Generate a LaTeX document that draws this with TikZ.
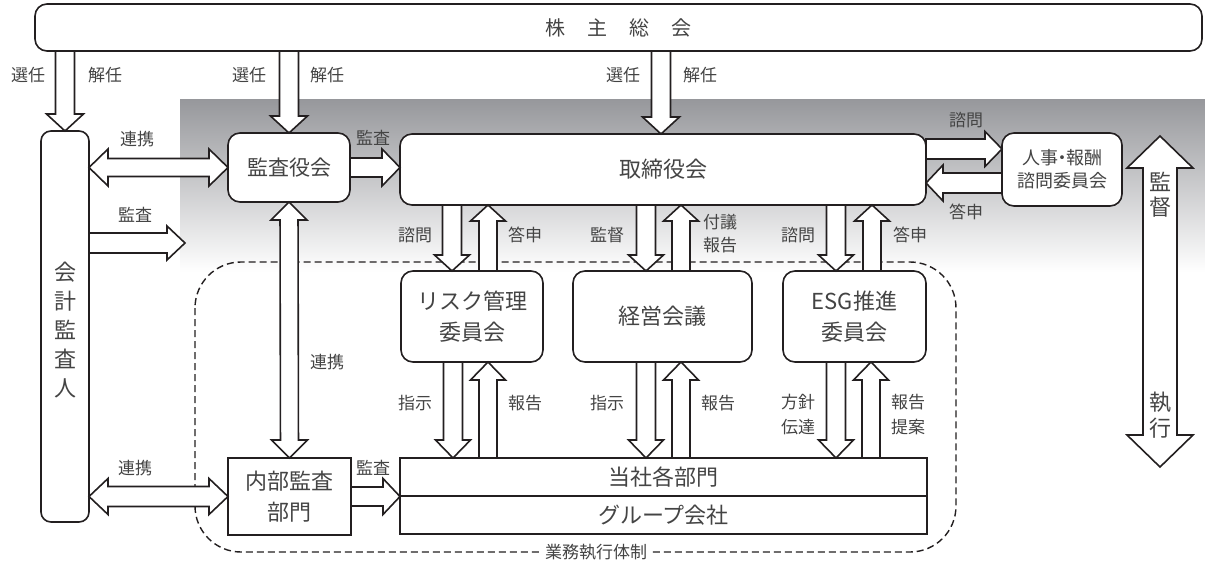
\documentclass[tikz,border=0pt]{standalone}
\usepackage{fontspec}
\setmainfont{Noto Sans CJK JP}
\usetikzlibrary{calc}
\definecolor{ln}{HTML}{231F20}
\definecolor{tx}{HTML}{444444}
\definecolor{shtop}{HTML}{97989C}
% single block arrow: #1 start, #2 end, #3 shaft half width, #4 head half width, #5 head length
\newcommand\blockarr[5]{%
  \draw[barr] let \p1=(#1), \p2=(#2), \n1={veclen(\x2-\x1,\y2-\y1)}, \n2={atan2(\y2-\y1,\x2-\x1)} in
   [shift={(\p1)}, rotate=\n2] (0,-#3) -- ({\n1-#5},-#3) -- ({\n1-#5},-#4) -- (\n1,0) -- ({\n1-#5},#4) -- ({\n1-#5},#3) -- (0,#3) -- cycle;}
% double block arrow
\newcommand\dblockarr[5]{%
  \draw[barr] let \p1=(#1), \p2=(#2), \n1={veclen(\x2-\x1,\y2-\y1)}, \n2={atan2(\y2-\y1,\x2-\x1)} in
   [shift={(\p1)}, rotate=\n2] (#5,-#3) -- ({\n1-#5},-#3) -- ({\n1-#5},-#4) -- (\n1,0) -- ({\n1-#5},#4) -- ({\n1-#5},#3) -- (#5,#3) -- (#5,#4) -- (0,0) -- (#5,-#4) -- cycle;}
\begin{document}
\begin{tikzpicture}[x=1pt,y=1pt,
  box/.style={draw=ln, line width=1.6pt, fill=white, rounded corners=12pt, outer sep=0pt, inner sep=0pt, text=tx, align=center, font=\fontsize{22}{31}\selectfont},
  sqbox/.style={box, rounded corners=0pt},
  lbl/.style={text=tx, font=\fontsize{17}{23}\selectfont, align=center, inner sep=0pt},
  barr/.style={draw=ln, fill=white, line width=1.6pt, line join=miter}]
\useasboundingbox[fill=white] (0,0) rectangle (1205,-564);
% background shading
\shade[top color=shtop, bottom color=white] (180,-100) rectangle (1205,-272);
% dashed execution region
\draw[ln, line width=1.4pt, dash pattern=on 7pt off 4pt, rounded corners=46pt] (195,-262) rectangle (956,-552);
\node[lbl, fill=white, inner xsep=5pt, inner ysep=2pt] (region) at (596,-552) {業務執行体制};
% nodes
\node[box, minimum width=1167pt, minimum height=47pt, font=\fontsize{20}{24}\selectfont] (share) at (618.5,-27.5) {株\hspace{22pt}主\hspace{22pt}総\hspace{22pt}会};
\node[box, rounded corners=10pt, minimum width=48pt, minimum height=391pt] (auditor) at (65,-326.5) {};
\node[text=tx, align=center, inner sep=0pt, font=\fontsize{22}{29}\selectfont] (auditortext) at (65,-330) {会\\計\\監\\査\\人};
\node[box, minimum width=122pt, minimum height=69pt, font=\fontsize{21}{28}\selectfont] (kansa) at (289,-167.5) {監査役会};
\node[box, minimum width=526pt, minimum height=71pt] (board) at (663,-169.5) {取締役会};
\node[box, minimum width=120pt, minimum height=73pt, font=\fontsize{18}{23}\selectfont] (jinji) at (1062,-169.5) {人事\hspace{-5pt}・\hspace{-5pt}報酬\\諮問委員会};
\node[box, minimum width=142pt, minimum height=91pt] (risk) at (472,-316.5) {リスク管理\\委員会};
\node[box, minimum width=179pt, minimum height=91pt] (keiei) at (662.5,-316.5) {経営会議};
\node[box, minimum width=143pt, minimum height=91pt] (esg) at (854.5,-316.5) {ESG推進\\委員会};
\node[sqbox, minimum width=527pt, minimum height=38pt] (dept) at (663.5,-477) {当社各部門};
\node[sqbox, minimum width=527pt, minimum height=38pt] (group) at (663.5,-515) {グループ会社};
\node[sqbox, minimum width=123pt, minimum height=77pt] (naibu) at (289.5,-496.5) {内部監査\\部門};
\coordinate (auditfree) at (185,-243);
\coordinate (bigtop) at (1160,-136);
\coordinate (bigbot) at (1160,-467);
% arrows from shareholders
\blockarr{auditor.north |- share.south}{auditor.north}{9.5}{18.5}{17}
\blockarr{kansa.north |- share.south}{kansa.north}{9.5}{18.5}{17}
\blockarr{661,0 |- share.south}{661,0 |- board.north}{9.5}{18.5}{17}
% auditor links
\dblockarr{auditor.east |- kansa.west}{kansa.west}{9}{18.5}{19}
\blockarr{kansa.east}{kansa.east -| board.west}{9.5}{18.5}{18}
\blockarr{auditor.east |- auditfree}{auditfree}{10}{17}{18}
\dblockarr{kansa.south}{naibu.north}{9}{18}{18}
\dblockarr{auditor.east |- naibu.west}{naibu.west}{10}{18}{19}
\blockarr{naibu.east}{naibu.east -| dept.west}{9.5}{18}{17}
% board to committees
\blockarr{452,0 |- board.south}{452,0 |- risk.north}{9.5}{17.5}{16}
\blockarr{488,0 |- risk.north}{488,0 |- board.south}{9}{17.5}{16}
\blockarr{646,0 |- board.south}{646,0 |- keiei.north}{9.5}{17.5}{16}
\blockarr{681,0 |- keiei.north}{681,0 |- board.south}{9}{17.5}{16}
\blockarr{836,0 |- board.south}{836,0 |- esg.north}{9.5}{17.5}{16}
\blockarr{872,0 |- esg.north}{872,0 |- board.south}{9}{17.5}{16}
% board and jinji
\blockarr{0,-149 -| board.east}{0,-149 -| jinji.west}{10}{17.5}{17}
\blockarr{0,-183 -| jinji.west}{0,-183 -| board.east}{10}{18}{17}
% committees to departments
\blockarr{453,0 |- risk.south}{453,0 |- dept.north}{9.5}{17.5}{18}
\blockarr{488,0 |- dept.north}{488,0 |- risk.south}{9}{17.5}{18}
\blockarr{646,0 |- keiei.south}{646,0 |- dept.north}{9.5}{17.5}{18}
\blockarr{681,0 |- dept.north}{681,0 |- keiei.south}{9}{17.5}{18}
\blockarr{836,0 |- esg.south}{836,0 |- dept.north}{9.5}{17.5}{18}
\blockarr{871,0 |- dept.north}{871,0 |- esg.south}{9}{17.5}{18}
% big supervision/execution arrow
\dblockarr{bigbot}{bigtop}{17}{33}{32}
% labels
\node[lbl] (l1) at (28,-75) {選任};
\node[lbl] (l2) at (105,-75) {解任};
\node[lbl] (l3) at (249,-75) {選任};
\node[lbl] (l4) at (327,-75) {解任};
\node[lbl] (l5) at (623,-75) {選任};
\node[lbl] (l6) at (700,-75) {解任};
\node[lbl] (l7) at (137,-139) {連携};
\node[lbl] (l8) at (373,-138) {監査};
\node[lbl] (l9) at (135,-215) {監査};
\node[lbl] (l10) at (327,-362) {連携};
\node[lbl] (l11) at (135,-468) {連携};
\node[lbl] (l12) at (373,-468) {監査};
\node[lbl] (l13) at (415,-235) {諮問};
\node[lbl] (l14) at (525,-235) {答申};
\node[lbl] (l15) at (607,-235) {監督};
\node[lbl] (l16) at (720,-233.5) {付議\\報告};
\node[lbl] (l17) at (798,-235) {諮問};
\node[lbl] (l18) at (910,-235) {答申};
\node[lbl] (l19) at (966,-120) {諮問};
\node[lbl] (l20) at (966,-212) {答申};
\node[lbl] (l21) at (415,-403) {指示};
\node[lbl] (l22) at (525,-403) {報告};
\node[lbl] (l23) at (607,-403) {指示};
\node[lbl] (l24) at (718,-403) {報告};
\node[lbl, font=\fontsize{17}{25}\selectfont] (l25) at (798,-414.5) {方針\\伝達};
\node[lbl, font=\fontsize{17}{25}\selectfont] (l26) at (908,-414.5) {報告\\提案};
\node[lbl, font=\fontsize{22}{25}\selectfont] (l27) at (1160,-194.5) {監\\督};
\node[lbl, font=\fontsize{22}{26}\selectfont] (l28) at (1160,-415) {執\\行};
\end{tikzpicture}
\end{document}
